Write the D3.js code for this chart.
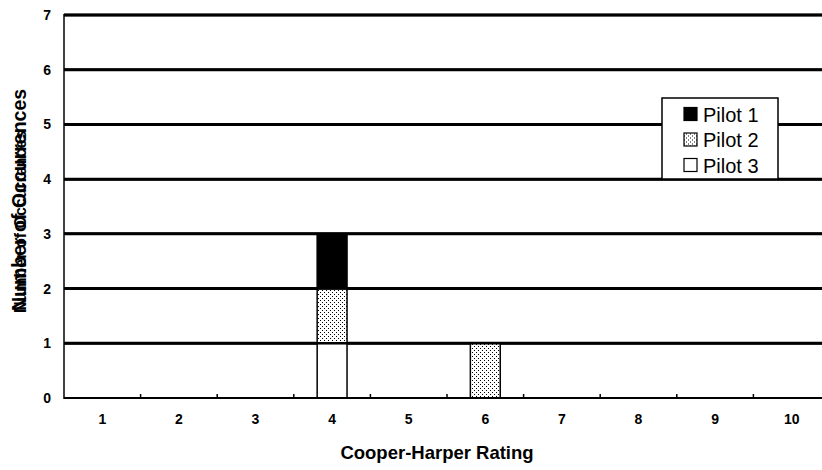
<!DOCTYPE html>
<html>
<head>
<meta charset="utf-8">
<script src="https://cdn.jsdelivr.net/npm/d3@7"></script>
<style>
  html, body { margin: 0; padding: 0; background: #fff; }
  svg { display: block; font-family: Arial, "Liberation Sans", sans-serif; }
</style>
</head>
<body>
<svg id="chart" width="822" height="470"></svg>
<script>
// ---- Data ----
const categories = ["1", "2", "3", "4", "5", "6", "7", "8", "9", "10"];
const seriesNames = ["Pilot 1", "Pilot 2", "Pilot 3"];
const pilot1 = [0, 0, 0, 1, 0, 0, 0, 0, 0, 0];
const pilot2 = [0, 0, 0, 1, 0, 1, 0, 0, 0, 0];
const pilot3 = [0, 0, 0, 1, 0, 0, 0, 0, 0, 0];
const yTicks = [0, 1, 2, 3, 4, 5, 6, 7];
const xTitle = "Cooper-Harper Rating";
const yTitle = "Number of Occurrences";

const svg = d3.select("#chart");
const W = 822, H = 470;
const plot = { left: 64, right: 830, top: 15, bottom: 398 };

// stipple pattern for Pilot 2
const defs = svg.append("defs");
const pat = defs.append("pattern").attr("id", "stipple")
  .attr("patternUnits", "userSpaceOnUse").attr("width", 4).attr("height", 4);
pat.append("rect").attr("width", 4).attr("height", 4).attr("fill", "#fff");
pat.append("rect").attr("x", 0).attr("y", 0).attr("width", 1).attr("height", 1).attr("fill", "#000");
pat.append("rect").attr("x", 2).attr("y", 2).attr("width", 1).attr("height", 1).attr("fill", "#000");

const fills = { "Pilot 1": "#000", "Pilot 2": "url(#stipple)", "Pilot 3": "#fff" };

const x = d3.scaleBand().domain(categories).range([plot.left, plot.right]).padding(0);
const y = d3.scaleLinear().domain([0, 7]).range([plot.bottom, plot.top]);

svg.append("rect").attr("width", W).attr("height", H).attr("fill", "#fff");

// gridlines
svg.append("g").selectAll("line").data(yTicks.filter(d => d > 0)).join("line")
  .attr("x1", plot.left).attr("x2", plot.right)
  .attr("y1", d => y(d)).attr("y2", d => y(d))
  .attr("stroke", "#000").attr("stroke-width", 3);

// stacked bars (Pilot 3 bottom, Pilot 2, Pilot 1 top)
const table = categories.map((c, i) => ({ cat: c, "Pilot 1": pilot1[i], "Pilot 2": pilot2[i], "Pilot 3": pilot3[i] }));
const stack = d3.stack().keys(["Pilot 3", "Pilot 2", "Pilot 1"])(table);
const barW = x.bandwidth() * 0.39;
svg.append("g").selectAll("g").data(stack).join("g")
  .attr("fill", d => fills[d.key])
  .selectAll("rect").data(d => d.filter(p => p[1] - p[0] > 0)).join("rect")
  .attr("x", d => x(d.data.cat) + x.bandwidth() / 2 - barW / 2)
  .attr("width", barW)
  .attr("y", d => y(d[1]))
  .attr("height", d => y(d[0]) - y(d[1]))
  .attr("stroke", "#000").attr("stroke-width", 1.5);

// redraw gridlines over bar tops for crisp look
svg.append("g").selectAll("line").data(yTicks.filter(d => d > 0)).join("line")
  .attr("x1", plot.left).attr("x2", plot.right)
  .attr("y1", d => y(d)).attr("y2", d => y(d))
  .attr("stroke", "#000").attr("stroke-width", 2.5);

// x axis
const xAxis = d3.axisBottom(x).tickSize(0).tickPadding(16);
const gx = svg.append("g").attr("transform", `translate(0,${plot.bottom})`).call(xAxis);
gx.select(".domain").remove();
gx.selectAll("text").attr("font-size", 14).attr("font-weight", "bold").attr("fill", "#000")
  .attr("font-family", "Arial, 'Liberation Sans', sans-serif");
svg.append("line").attr("x1", plot.left).attr("x2", plot.right)
  .attr("y1", plot.bottom).attr("y2", plot.bottom).attr("stroke", "#000").attr("stroke-width", 2);
// band boundary ticks
svg.append("g").selectAll("line").data(categories.slice(1)).join("line")
  .attr("x1", d => x(d)).attr("x2", d => x(d))
  .attr("y1", plot.bottom).attr("y2", plot.bottom - 4)
  .attr("stroke", "#000").attr("stroke-width", 1.5);

// y axis
const yAxis = d3.axisLeft(y).tickValues(yTicks).tickSize(0).tickPadding(13).tickFormat(d3.format("d"));
const gy = svg.append("g").attr("transform", `translate(${plot.left},0)`).call(yAxis);
gy.select(".domain").remove();
gy.selectAll("text").attr("font-size", 14).attr("font-weight", "bold").attr("fill", "#000")
  .attr("font-family", "Arial, 'Liberation Sans', sans-serif");
svg.append("line").attr("x1", plot.left).attr("x2", plot.left)
  .attr("y1", plot.top - 1).attr("y2", plot.bottom + 1).attr("stroke", "#000").attr("stroke-width", 1.5);
svg.append("g").selectAll("line").data(yTicks).join("line")
  .attr("x1", plot.left).attr("x2", plot.left + 4)
  .attr("y1", d => y(d)).attr("y2", d => y(d))
  .attr("stroke", "#000").attr("stroke-width", 1.5);

// axis titles
svg.append("text").attr("x", 437).attr("y", 459).attr("text-anchor", "middle")
  .attr("font-size", 18.5).attr("font-weight", "bold").attr("fill", "#000").text(xTitle);
// overlapping (double-printed) y title as in the reference
svg.append("text").attr("transform", "translate(26,313) rotate(-90)").attr("text-anchor", "start")
  .attr("font-size", 16).attr("font-weight", "bold").attr("fill", "#000").text(yTitle);
svg.append("text").attr("transform", "translate(26,311) rotate(-90)").attr("text-anchor", "start")
  .attr("font-size", 19.5).attr("font-weight", "bold").attr("fill", "#000").text(yTitle);

// legend
const lg = svg.append("g");
lg.append("rect").attr("x", 662).attr("y", 98).attr("width", 116).attr("height", 81)
  .attr("fill", "#fff").attr("stroke", "#000").attr("stroke-width", 1.5);
const items = lg.selectAll("g").data(seriesNames).join("g")
  .attr("transform", (d, i) => `translate(684,${114 + i * 25.5})`);
items.append("rect").attr("x", 0).attr("y", -6.5).attr("width", 13).attr("height", 13)
  .attr("fill", d => fills[d]).attr("stroke", "#000").attr("stroke-width", 1.2);
items.append("text").attr("x", 19).attr("y", 7.5).attr("font-size", 20).attr("fill", "#000").text(d => d);
</script>
</body>
</html>
